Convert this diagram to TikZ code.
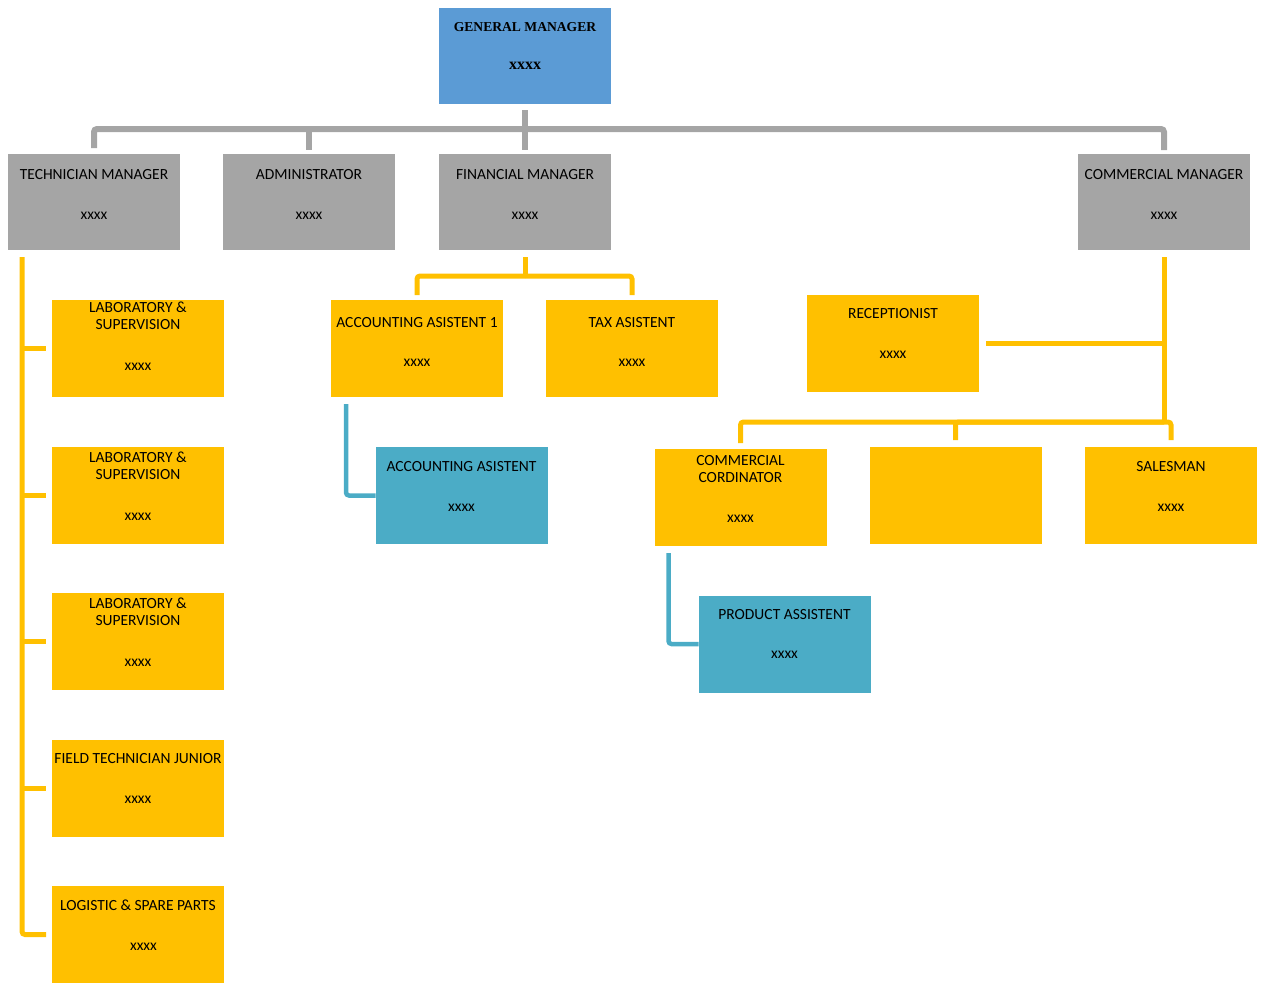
\documentclass[tikz,border=0pt]{standalone}
\usepackage{fontspec}
\setmainfont{Carlito}
\newfontfamily\gmfont{Liberation Serif}
\usepackage{tikz}
\usetikzlibrary{positioning,calc}
\definecolor{gmblue}{HTML}{5B9BD5}
\definecolor{mgray}{HTML}{A5A5A5}
\definecolor{gold}{HTML}{FFC000}
\definecolor{aqua}{HTML}{4BACC6}
\tikzset{
  unitbox/.style={minimum width=172pt, minimum height=97pt, inner sep=0pt, outer sep=0pt},
  gmbox/.style={unitbox, fill=gmblue, minimum height=96pt},
  mgrbox/.style={unitbox, fill=mgray, minimum height=96pt},
  ybox/.style={unitbox, fill=gold},
  abox/.style={unitbox, fill=aqua},
  ttl/.style={align=center, inner sep=0pt, font={\fontsize{15.5}{17}\selectfont}},
  gmttl/.style={align=center, inner sep=0pt, font={\gmfont\bfseries\fontsize{13.6}{15}\selectfont}},
  grayline/.style={draw=mgray, line width=6pt, rounded corners=3pt},
  goldline/.style={draw=gold, line width=5pt, rounded corners=3pt},
  aqualine/.style={draw=aqua, line width=4.5pt, rounded corners=3pt}
}
\begin{document}
\begin{tikzpicture}[x=1pt, y=-1pt, node distance=49.5pt]
\useasboundingbox (0,0) rectangle (1261,983);
\node[gmbox] (gm) at (525,56) {};
\node[mgrbox] (tech) at (94,202) {};
\node[mgrbox] (admin) at (309,202) {};
\node[mgrbox] (fin) at (525,202) {};
\node[mgrbox] (comm) at (1164,202) {};
\node[ybox] (lab1) at (138,348.5) {};
\node[ybox, below=of lab1] (lab2) {};
\node[ybox, below=of lab2] (lab3) {};
\node[ybox, below=of lab3] (field) {};
\node[ybox, below=of field] (logi) {};
\node[ybox] (acc1) at (417,348.5) {};
\node[ybox, right=43pt of acc1] (tax) {};
\node[abox] (acc2) at (461.5,495.5) {};
\node[ybox] (recep) at (893,343) {};
\node[ybox] (cord) at (740.5,497.5) {};
\node[ybox] (blank) at (955.5,495.5) {};
\node[ybox] (sales) at (1171,495.5) {};
\node[abox] (prod) at (784.5,644) {};

\node[gmttl, below=14.5pt of gm.north] (gm-t) {GENERAL MANAGER\\[23pt]{\fontsize{16}{15}\selectfont xxxx}};
\node[ttl, below=15pt of tech.north] (tech-t) {TECHNICIAN MANAGER\\[23pt]xxxx};
\node[ttl, below=15pt of admin.north] (admin-t) {ADMINISTRATOR\\[23pt]xxxx};
\node[ttl, below=15pt of fin.north] (fin-t) {FINANCIAL MANAGER\\[23pt]xxxx};
\node[ttl, below=15pt of comm.north] (comm-t) {COMMERCIAL MANAGER\\[23pt]xxxx};
\node[ttl, below=2pt of lab1.north] (lab1-t) {LABORATORY \&\\SUPERVISION\\[24pt]xxxx};
\node[ttl, below=5pt of lab2.north] (lab2-t) {LABORATORY \&\\SUPERVISION\\[24pt]xxxx};
\node[ttl, below=5pt of lab3.north] (lab3-t) {LABORATORY \&\\SUPERVISION\\[24pt]xxxx};
\node[ttl, below=14pt of field.north] (field-t) {FIELD TECHNICIAN JUNIOR\\[23pt]xxxx};
\node[ttl, below=14pt of logi.north] (logi-t) {LOGISTIC \& SPARE PARTS\\[23pt]\hspace*{11pt}xxxx};
\node[ttl, below=17pt of acc1.north] (acc1-t) {ACCOUNTING ASISTENT 1\\[22pt]xxxx};
\node[ttl, below=17pt of tax.north] (tax-t) {TAX ASISTENT\\[22pt]xxxx};
\node[ttl, below=14pt of acc2.north] (acc2-t) {ACCOUNTING ASISTENT\\[23pt]xxxx};
\node[ttl, below=14pt of recep.north] (recep-t) {RECEPTIONIST\\[23pt]xxxx};
\node[ttl, below=6pt of cord.north] (cord-t) {COMMERCIAL\\CORDINATOR\\[23pt]xxxx};
\node[ttl, below=14pt of sales.north] (sales-t) {SALESMAN\\[23pt]xxxx};
\node[ttl, below=14pt of prod.north] (prod-t) {PRODUCT ASSISTENT\\[22pt]xxxx};

\coordinate (gbar) at (525,129);
\draw[grayline, shorten <=6pt, shorten >=4pt] (gm.south) -- (fin.north);
\draw[grayline, shorten <=6pt, shorten >=4pt] (tech.north) -- (tech.north |- gbar) -- (comm.north |- gbar) -- (comm.north);
\draw[grayline, shorten >=4pt] (admin.north |- gbar) -- (admin.north);

\coordinate (tspine) at (22,257);
\draw[goldline, shorten >=6pt] (tspine) |- (logi.west);
\foreach \b in {lab1,lab2,lab3,field}
  \draw[goldline, shorten >=6pt] (tspine |- \b.west) -- (\b.west);

\coordinate (fbar) at (525,276);
\draw[goldline, shorten <=7pt] (fin.south) -- (fbar);
\draw[goldline, shorten >=5pt] (fbar) -| (acc1.north);
\draw[goldline, shorten >=5pt] (fbar) -| (tax.north);
\draw[aqualine, shorten <=7pt] ([xshift=15pt]acc1.south west) |- (acc2.west);

\coordinate (cbar) at (1164,422);
\draw[goldline, shorten <=7pt] (comm.south) -- (cbar);
\draw[goldline, shorten >=7pt] (comm.south |- recep.east) -- (recep.east);
\draw[goldline, shorten >=6pt] (cbar) -| (cord.north);
\draw[goldline, shorten >=7pt] (cbar) -| (blank.north);
\draw[goldline, shorten >=7pt] (cbar) -| (sales.north);
\draw[aqualine, shorten <=7pt] ([xshift=14pt]cord.south west) |- (prod.west);
\end{tikzpicture}
\end{document}
